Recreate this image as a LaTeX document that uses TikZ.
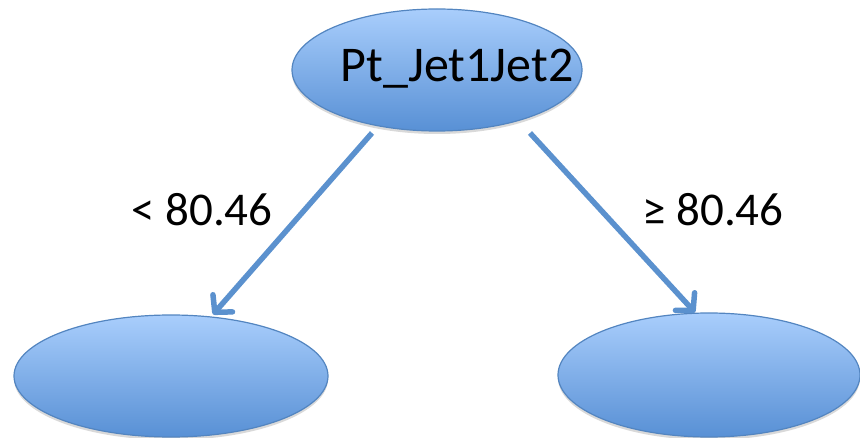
\documentclass[tikz,border=0pt]{standalone}
\usepackage{fontspec}
\setmainfont{Carlito}
\usetikzlibrary{shapes.geometric,arrows.meta,shadows}
\definecolor{topblue}{HTML}{A9CEFC}
\definecolor{botblue}{HTML}{5890D5}
\definecolor{edgeblue}{HTML}{5385C0}
\definecolor{arrowblue}{HTML}{5B91CE}
\tikzset{
  leaf/.style={ellipse, draw=edgeblue, line width=1.2pt, top color=topblue, bottom color=botblue,
    drop shadow={shadow xshift=0pt, shadow yshift=-3pt, opacity=0.25, fill=black!60}},
  conn/.style={draw=arrowblue, line width=5.5pt, -{Straight Barb[length=12pt, width=26pt, line cap=round, line join=round]}},
  lbl/.style={font=\fontsize{47}{52}\selectfont, text=black, inner sep=0pt},
  rootlbl/.style={font=\fontsize{50}{56}\selectfont, text=black, inner sep=0pt}
}
\begin{document}
\begin{tikzpicture}[x=1pt,y=-1pt]
\useasboundingbox (0,0) rectangle (860,438);
\node[leaf, minimum width=290pt, minimum height=122pt, inner sep=0pt] (root) at (437,70) {};
\node[rootlbl] (roottext) at (457,69) {Pt\_Jet1Jet2};
\node[leaf, minimum width=314pt, minimum height=122pt, inner sep=0pt] (left) at (171,376) {};
\node[leaf, minimum width=302pt, minimum height=124pt, inner sep=0pt] (right) at (709,375) {};
\coordinate (ls) at (372,133);
\coordinate (rs) at (530,133);
\draw[conn] (ls) -- (left.north -| 213,0) ;
\draw[conn] (rs) -- (right.north -| 695,0);
\node[lbl] (lt) at (202,210) {< 80.46};
\node[lbl] (rt) at (713,210) {≥ 80.46};
\end{tikzpicture}
\end{document}
